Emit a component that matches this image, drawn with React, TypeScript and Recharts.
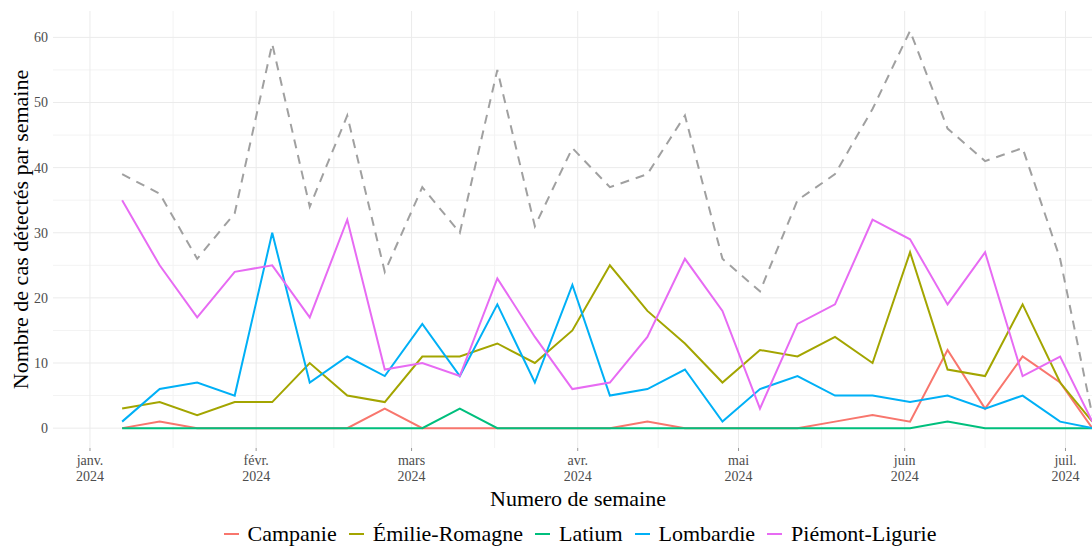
import {
  CartesianGrid,
  Label,
  Line,
  LineChart,
  XAxis,
  YAxis,
} from "recharts";

const weeks = [
  "2024-01-07", "2024-01-14", "2024-01-21", "2024-01-28", "2024-02-04",
  "2024-02-11", "2024-02-18", "2024-02-25", "2024-03-03", "2024-03-10",
  "2024-03-17", "2024-03-24", "2024-03-31", "2024-04-07", "2024-04-14",
  "2024-04-21", "2024-04-28", "2024-05-05", "2024-05-12", "2024-05-19",
  "2024-05-26", "2024-06-02", "2024-06-09", "2024-06-16", "2024-06-23",
  "2024-06-30", "2024-07-06",
];

const campanie = [0, 1, 0, 0, 0, 0, 0, 3, 0, 0, 0, 0, 0, 0, 1, 0, 0, 0, 0, 1, 2, 1, 12, 3, 11, 7, 0];
const emilieRomagne = [3, 4, 2, 4, 4, 10, 5, 4, 11, 11, 13, 10, 15, 25, 18, 13, 7, 12, 11, 14, 10, 27, 9, 8, 19, 7, 1];
const latium = [0, 0, 0, 0, 0, 0, 0, 0, 0, 3, 0, 0, 0, 0, 0, 0, 0, 0, 0, 0, 0, 0, 1, 0, 0, 0, 0];
const lombardie = [1, 6, 7, 5, 30, 7, 11, 8, 16, 8, 19, 7, 22, 5, 6, 9, 1, 6, 8, 5, 5, 4, 5, 3, 5, 1, 0];
const piemontLigurie = [35, 25, 17, 24, 25, 17, 32, 9, 10, 8, 23, 14, 6, 7, 14, 26, 18, 3, 16, 19, 32, 29, 19, 27, 8, 11, 1];
const total = [39, 36, 26, 33, 59, 34, 48, 24, 37, 30, 55, 31, 43, 37, 39, 48, 26, 21, 35, 39, 49, 61, 46, 41, 43, 26, 2];

// month starts (days since 1 Jan 2024) and their labels
const monthTicks = [0, 31, 60, 91, 121, 152, 182];
const monthLabels = ["janv.", "févr.", "mars", "avr.", "mai", "juin", "juil."];
const minorXTicks = [15.5, 45.5, 75.5, 106, 136.5, 167];
const yTicks = [0, 10, 20, 30, 40, 50, 60];
const minorYTicks = [5, 15, 25, 35, 45, 55];

const X_DOMAIN: [number, number] = [-6.9, 189];
const Y_DOMAIN: [number, number] = [-3.05, 64.05];

const series = [
  { key: "campanie", name: "Campanie", color: "#F8766D", values: campanie },
  { key: "emilie", name: "Émilie-Romagne", color: "#A3A500", values: emilieRomagne },
  { key: "latium", name: "Latium", color: "#00BF7D", values: latium },
  { key: "lombardie", name: "Lombardie", color: "#00B0F6", values: lombardie },
  { key: "piemont", name: "Piémont-Ligurie", color: "#E76BF3", values: piemontLigurie },
];

const FONT = '"Liberation Serif", "Times New Roman", serif';
const DAY = 86400000;
const origin = Date.parse("2024-01-01");

const chartData = weeks.map((w, i) => {
  const row: Record<string, number> = {
    d: (Date.parse(w) - origin) / DAY,
    total: total[i],
  };
  series.forEach((s) => {
    row[s.key] = s.values[i];
  });
  return row;
});

// minor grid positions, mapped through the plot box like the axes do
const minorHorizontal = ({ offset }: any) =>
  minorYTicks.map(
    (v) =>
      offset.top +
      ((Y_DOMAIN[1] - v) / (Y_DOMAIN[1] - Y_DOMAIN[0])) * offset.height
  );
const minorVertical = ({ offset }: any) =>
  minorXTicks.map(
    (v) =>
      offset.left +
      ((v - X_DOMAIN[0]) / (X_DOMAIN[1] - X_DOMAIN[0])) * offset.width
  );

const MonthTick = ({ x, y, payload }: any) => {
  const idx = monthTicks.indexOf(payload.value);
  return (
    <g transform={`translate(${x},${y})`}>
      <text textAnchor="middle" fill="#4d4d4d" fontSize={14} fontFamily={FONT}>
        <tspan x={0} dy={12}>
          {monthLabels[idx]}
        </tspan>
        <tspan x={0} dy={16}>
          2024
        </tspan>
      </text>
    </g>
  );
};

const YTitle = ({ viewBox }: any) => {
  const x = viewBox.x + 28;
  const y = viewBox.y + viewBox.height / 2;
  return (
    <text
      x={x}
      y={y}
      transform={`rotate(-90, ${x}, ${y})`}
      textAnchor="middle"
      fontSize={22}
      fontFamily={FONT}
      fill="#000"
    >
      Nombre de cas détectés par semaine
    </text>
  );
};

export default function App() {
  return (
    <div
      style={{
        position: "absolute",
        left: 0,
        top: 0,
        width: 1092,
        height: 547,
        overflow: "hidden",
        background: "#fff",
      }}
    >
      <LineChart
        width={1103}
        height={547}
        data={chartData}
        margin={{ top: 11, right: 0, bottom: 0, left: 0 }}
      >
        <CartesianGrid
          stroke="#f3f3f3"
          strokeWidth={1}
          horizontalCoordinatesGenerator={minorHorizontal}
          verticalCoordinatesGenerator={minorVertical}
        />
        <CartesianGrid stroke="#ebebeb" strokeWidth={1} syncWithTicks />
        <XAxis
          dataKey="d"
          type="number"
          domain={X_DOMAIN}
          allowDataOverflow
          ticks={monthTicks}
          tick={<MonthTick />}
          tickSize={3}
          tickMargin={2}
          tickLine={{ stroke: "#999" }}
          axisLine={false}
          height={99}
          interval={0}
        >
          <Label
            value="Numero de semaine"
            position="insideBottom"
            offset={41}
            fontSize={22}
            fontFamily={FONT}
            fill="#000"
          />
        </XAxis>
        <YAxis
          type="number"
          domain={Y_DOMAIN}
          ticks={yTicks}
          width={53}
          tickSize={0}
          tickMargin={5}
          tickLine={false}
          axisLine={false}
          tick={{ fill: "#4d4d4d", fontSize: 14, fontFamily: FONT }}
          interval={0}
        >
          <Label content={<YTitle />} />
        </YAxis>
        <Line
          dataKey="total"
          type="linear"
          stroke="#a0a0a0"
          strokeWidth={2}
          strokeDasharray="9 7"
          dot={false}
          isAnimationActive={false}
        />
        {series.map((s) => (
          <Line
            key={s.key}
            dataKey={s.key}
            name={s.name}
            type="linear"
            stroke={s.color}
            strokeWidth={2}
            dot={false}
            isAnimationActive={false}
          />
        ))}
      </LineChart>
      <div
        style={{
          position: "absolute",
          left: 0,
          top: 521,
          width: 1160,
          display: "flex",
          justifyContent: "center",
          alignItems: "center",
          fontFamily: FONT,
          fontSize: 22,
          lineHeight: "26px",
          color: "#000",
        }}
      >
        {series.map((s) => (
          <div
            key={s.key}
            style={{ display: "flex", alignItems: "center", margin: "0 6px" }}
          >
            <span
              style={{
                display: "inline-block",
                width: 15,
                height: 2,
                background: s.color,
                marginRight: 9,
              }}
            />
            <span>{s.name}</span>
          </div>
        ))}
      </div>
    </div>
  );
}
